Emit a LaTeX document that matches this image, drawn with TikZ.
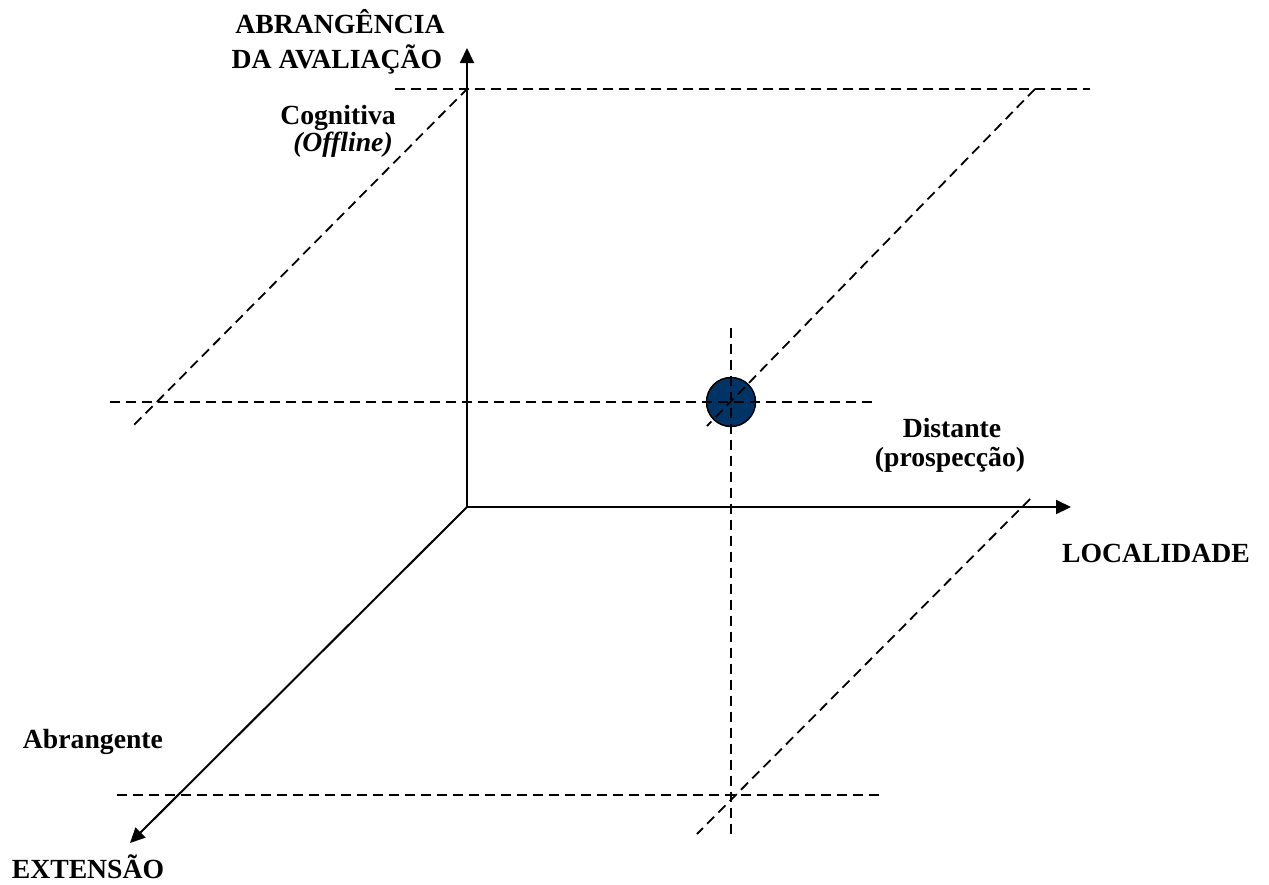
\documentclass[tikz,border=0pt]{standalone}
\usepackage{fontspec}
\setmainfont{Liberation Serif}
\usetikzlibrary{arrows.meta}
\definecolor{dotblue}{RGB}{0,51,102}
\begin{document}
\begin{tikzpicture}[x=1pt,y=-1pt,
  axis/.style={line width=2pt,-{Triangle[length=15pt,width=14pt]}},
  guide/.style={line width=1.8pt,dash pattern=on 10pt off 6pt},
  lbl/.style={font=\fontsize{27.7}{30}\selectfont\bfseries,anchor=base,inner sep=0pt}]
\useasboundingbox (0,0) rectangle (1269,884);

% axes
\coordinate (O) at (467,507);
\coordinate (Ytip) at (467,48);
\coordinate (Xtip) at (1071,507);
\coordinate (Ztip) at (130,843);
\draw[axis] (O) -- (Ytip);
\draw[axis] (O) -- (Xtip);
\draw[axis] (O) -- (Ztip);

% the point
\node[circle,draw=black,line width=1.5pt,fill=dotblue,minimum size=49pt,inner sep=0pt] (pt) at (731,402) {};

% guide lines
\coordinate (topA) at (395,89);   \coordinate (topB) at (1090,89);
\coordinate (dlA) at (468,88);    \coordinate (dlB) at (131,428);
\coordinate (drA) at (1035,89);   \coordinate (drB) at (707,426);
\coordinate (mhA) at (110,402);   \coordinate (mhB) at (875,402);
\coordinate (vA) at (731,328);    \coordinate (vB) at (731,835);
\coordinate (bhA) at (117,795);   \coordinate (bhB) at (880,795);
\coordinate (dbA) at (1030,499);  \coordinate (dbB) at (697,834);
\draw[guide] (topA) -- (topB);
\draw[guide] (dlA) -- (dlB);
\draw[guide] (drA) -- (drB);
\draw[guide] (mhA) -- (mhB);
\draw[guide] (vA) -- (vB);
\draw[guide] (bhA) -- (bhB);
\draw[guide] (dbA) -- (dbB);

% labels
\node[lbl] (ab1) at (340,33) {ABRANGÊNCIA};
\node[lbl] (ab2) at (337,68) {DA AVALIAÇÃO};
\node[lbl] (cog) at (338,124) {Cognitiva};
\node[lbl] (off) at (343,151) {\itshape (Offline)};
\node[lbl] (dis) at (952,437) {Distante};
\node[lbl] (pro) at (950,466) {(prospecção)};
\node[lbl] (loc) at (1156,562) {LOCALIDADE};
\node[lbl] (abr) at (93,748) {Abrangente};
\node[lbl] (ext) at (88,878) {EXTENSÃO};
\end{tikzpicture}
\end{document}
